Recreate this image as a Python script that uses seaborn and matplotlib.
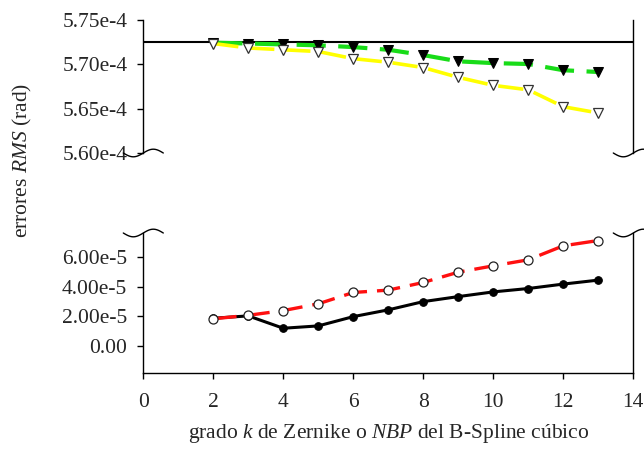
import numpy as np
import pandas as pd
import matplotlib
matplotlib.use("Agg")
import matplotlib.pyplot as plt
import matplotlib.transforms as mtransforms
from matplotlib.lines import Line2D
import seaborn as sns

# ---------------- data ----------------
k = [2, 3, 4, 5, 6, 7, 8, 9, 10, 11, 12, 13]
green_top = [572.4, 572.3, 572.2, 572.1, 571.9, 571.6, 571.0, 570.3, 570.1, 570.0, 569.3, 569.1]   # x1e-6
yellow_top = [572.3, 571.8, 571.6, 571.4, 570.6, 570.2, 569.6, 568.5, 567.6, 567.1, 565.2, 564.5]  # x1e-6
ref_line = 572.5e-6
black_bottom = [1.86, 2.02, 1.18, 1.34, 1.97, 2.43, 2.99, 3.33, 3.65, 3.88, 4.18, 4.45]   # x1e-5
red_bottom = [1.82, 2.06, 2.38, 2.84, 3.61, 3.77, 4.29, 4.99, 5.42, 5.83, 6.78, 7.14]      # x1e-5

top_ticks = [5.60e-4, 5.65e-4, 5.70e-4, 5.75e-4]
top_ticklabels = ["5.60e-4", "5.65e-4", "5.70e-4", "5.75e-4"]
bot_ticks = [0.0, 2e-5, 4e-5, 6e-5]
bot_ticklabels = ["0.00", "2.00e-5", "4.00e-5", "6.00e-5"]
x_ticks = [0, 2, 4, 6, 8, 10, 12, 14]

df_top = pd.DataFrame({"k": k,
                       "green": np.array(green_top) * 1e-6,
                       "yellow": np.array(yellow_top) * 1e-6})
df_bot = pd.DataFrame({"k": k,
                       "black": np.array(black_bottom) * 1e-5,
                       "red": np.array(red_bottom) * 1e-5})

# ---------------- style ----------------
sns.set_theme(style="white")
plt.rcParams["font.family"] = ["Liberation Serif", "DejaVu Serif"]
plt.rcParams["mathtext.fontset"] = "custom"
plt.rcParams["mathtext.rm"] = "Liberation Serif"
plt.rcParams["mathtext.it"] = "Liberation Serif:italic"
plt.rcParams["axes.edgecolor"] = "black"
plt.rcParams["axes.linewidth"] = 1.0

W, H = 644, 465
fig = plt.figure(figsize=(W / 100, H / 100), dpi=100)

left_px, right_px = 143.3, 633.3
def frac_box(y_top_img, y_bot_img):
    return [left_px / W, 1 - y_bot_img / H, (right_px - left_px) / W, (y_bot_img - y_top_img) / H]

ax_top = fig.add_axes(frac_box(19.5, 153.0))
ax_bot = fig.add_axes(frac_box(233.0, 373.3))

FS = 15.5

# ---------------- top panel ----------------
ax_top.axhline(ref_line, color="black", lw=1.5, zorder=2)
sns.lineplot(data=df_top, x="k", y="green", ax=ax_top, color="#18dc18", lw=3.0,
             linestyle=(0, (7, 3)), marker="v", markersize=7,
             markerfacecolor="black", markeredgecolor="black", zorder=3)
sns.lineplot(data=df_top, x="k", y="yellow", ax=ax_top, color="#ffff00", lw=2.6,
             linestyle=(0, (7, 3)), marker="v", markersize=7,
             markerfacecolor="white", markeredgecolor="#333333", markeredgewidth=0.9, zorder=4)
ax_top.set_xlim(0, 14)
ax_top.set_ylim(5.60e-4, 5.75e-4)
ax_top.set_yticks(top_ticks)
ax_top.set_yticklabels(top_ticklabels, fontsize=FS)
ax_top.set_xticks([])
ax_top.spines["top"].set_visible(False)
ax_top.spines["bottom"].set_visible(False)
ax_top.set_xlabel("")
ax_top.set_ylabel("")

# ---------------- bottom panel ----------------
sns.lineplot(data=df_bot, x="k", y="black", ax=ax_bot, color="black", lw=2.2,
             marker="o", markersize=5.5, markerfacecolor="black",
             markeredgecolor="black", zorder=3)
sns.lineplot(data=df_bot, x="k", y="red", ax=ax_bot, color="#ff1010", lw=2.4,
             linestyle=(0, (7, 3)), marker="o", markersize=6.5,
             markerfacecolor="white", markeredgecolor="#222222", markeredgewidth=0.9, zorder=4)
ax_bot.set_xlim(0, 14)
ax_bot.set_ylim(-1.88e-5, 7.65e-5)
ax_bot.set_yticks(bot_ticks)
ax_bot.set_yticklabels(bot_ticklabels, fontsize=FS)
ax_bot.set_xticks(x_ticks)
ax_bot.set_xticklabels([str(v) for v in x_ticks], fontsize=FS)
ax_bot.spines["top"].set_visible(False)
ax_bot.set_xlabel("")
ax_bot.set_ylabel("")

for ax in (ax_top, ax_bot):
    ax.tick_params(axis="y", direction="out", length=4.5, width=1, color="black",
                   left=True, right=False, pad=7)
    ax.grid(False)
ax_bot.tick_params(axis="x", direction="out", length=4, width=1, color="black",
                   bottom=True, top=False, pad=10)

# ---------------- break squiggles ----------------
def squiggle(xc, yc_img):
    dx = np.linspace(-20, 20, 60)
    dy = 3.8 * np.sin(np.pi * dx / 20.0)
    ln = Line2D(xc + dx, (H - yc_img) + dy, transform=mtransforms.IdentityTransform(),
                color="black", lw=1.0, clip_on=False)
    fig.add_artist(ln)

for xc in (left_px, right_px):
    squiggle(xc, 153.0)
    squiggle(xc, 233.0)

# ---------------- labels ----------------
fig.text(22 / W, 1 - 160 / H, "errores $RMS$ (rad)", rotation=90,
         ha="center", va="center", fontsize=FS)
fig.text((left_px + right_px) / 2 / W, 1 - 433 / H,
         "grado $k$ de Zernike o $NBP$ del B-Spline cúbico",
         ha="center", va="center", fontsize=FS)

fig.savefig("out.png", dpi=100)
